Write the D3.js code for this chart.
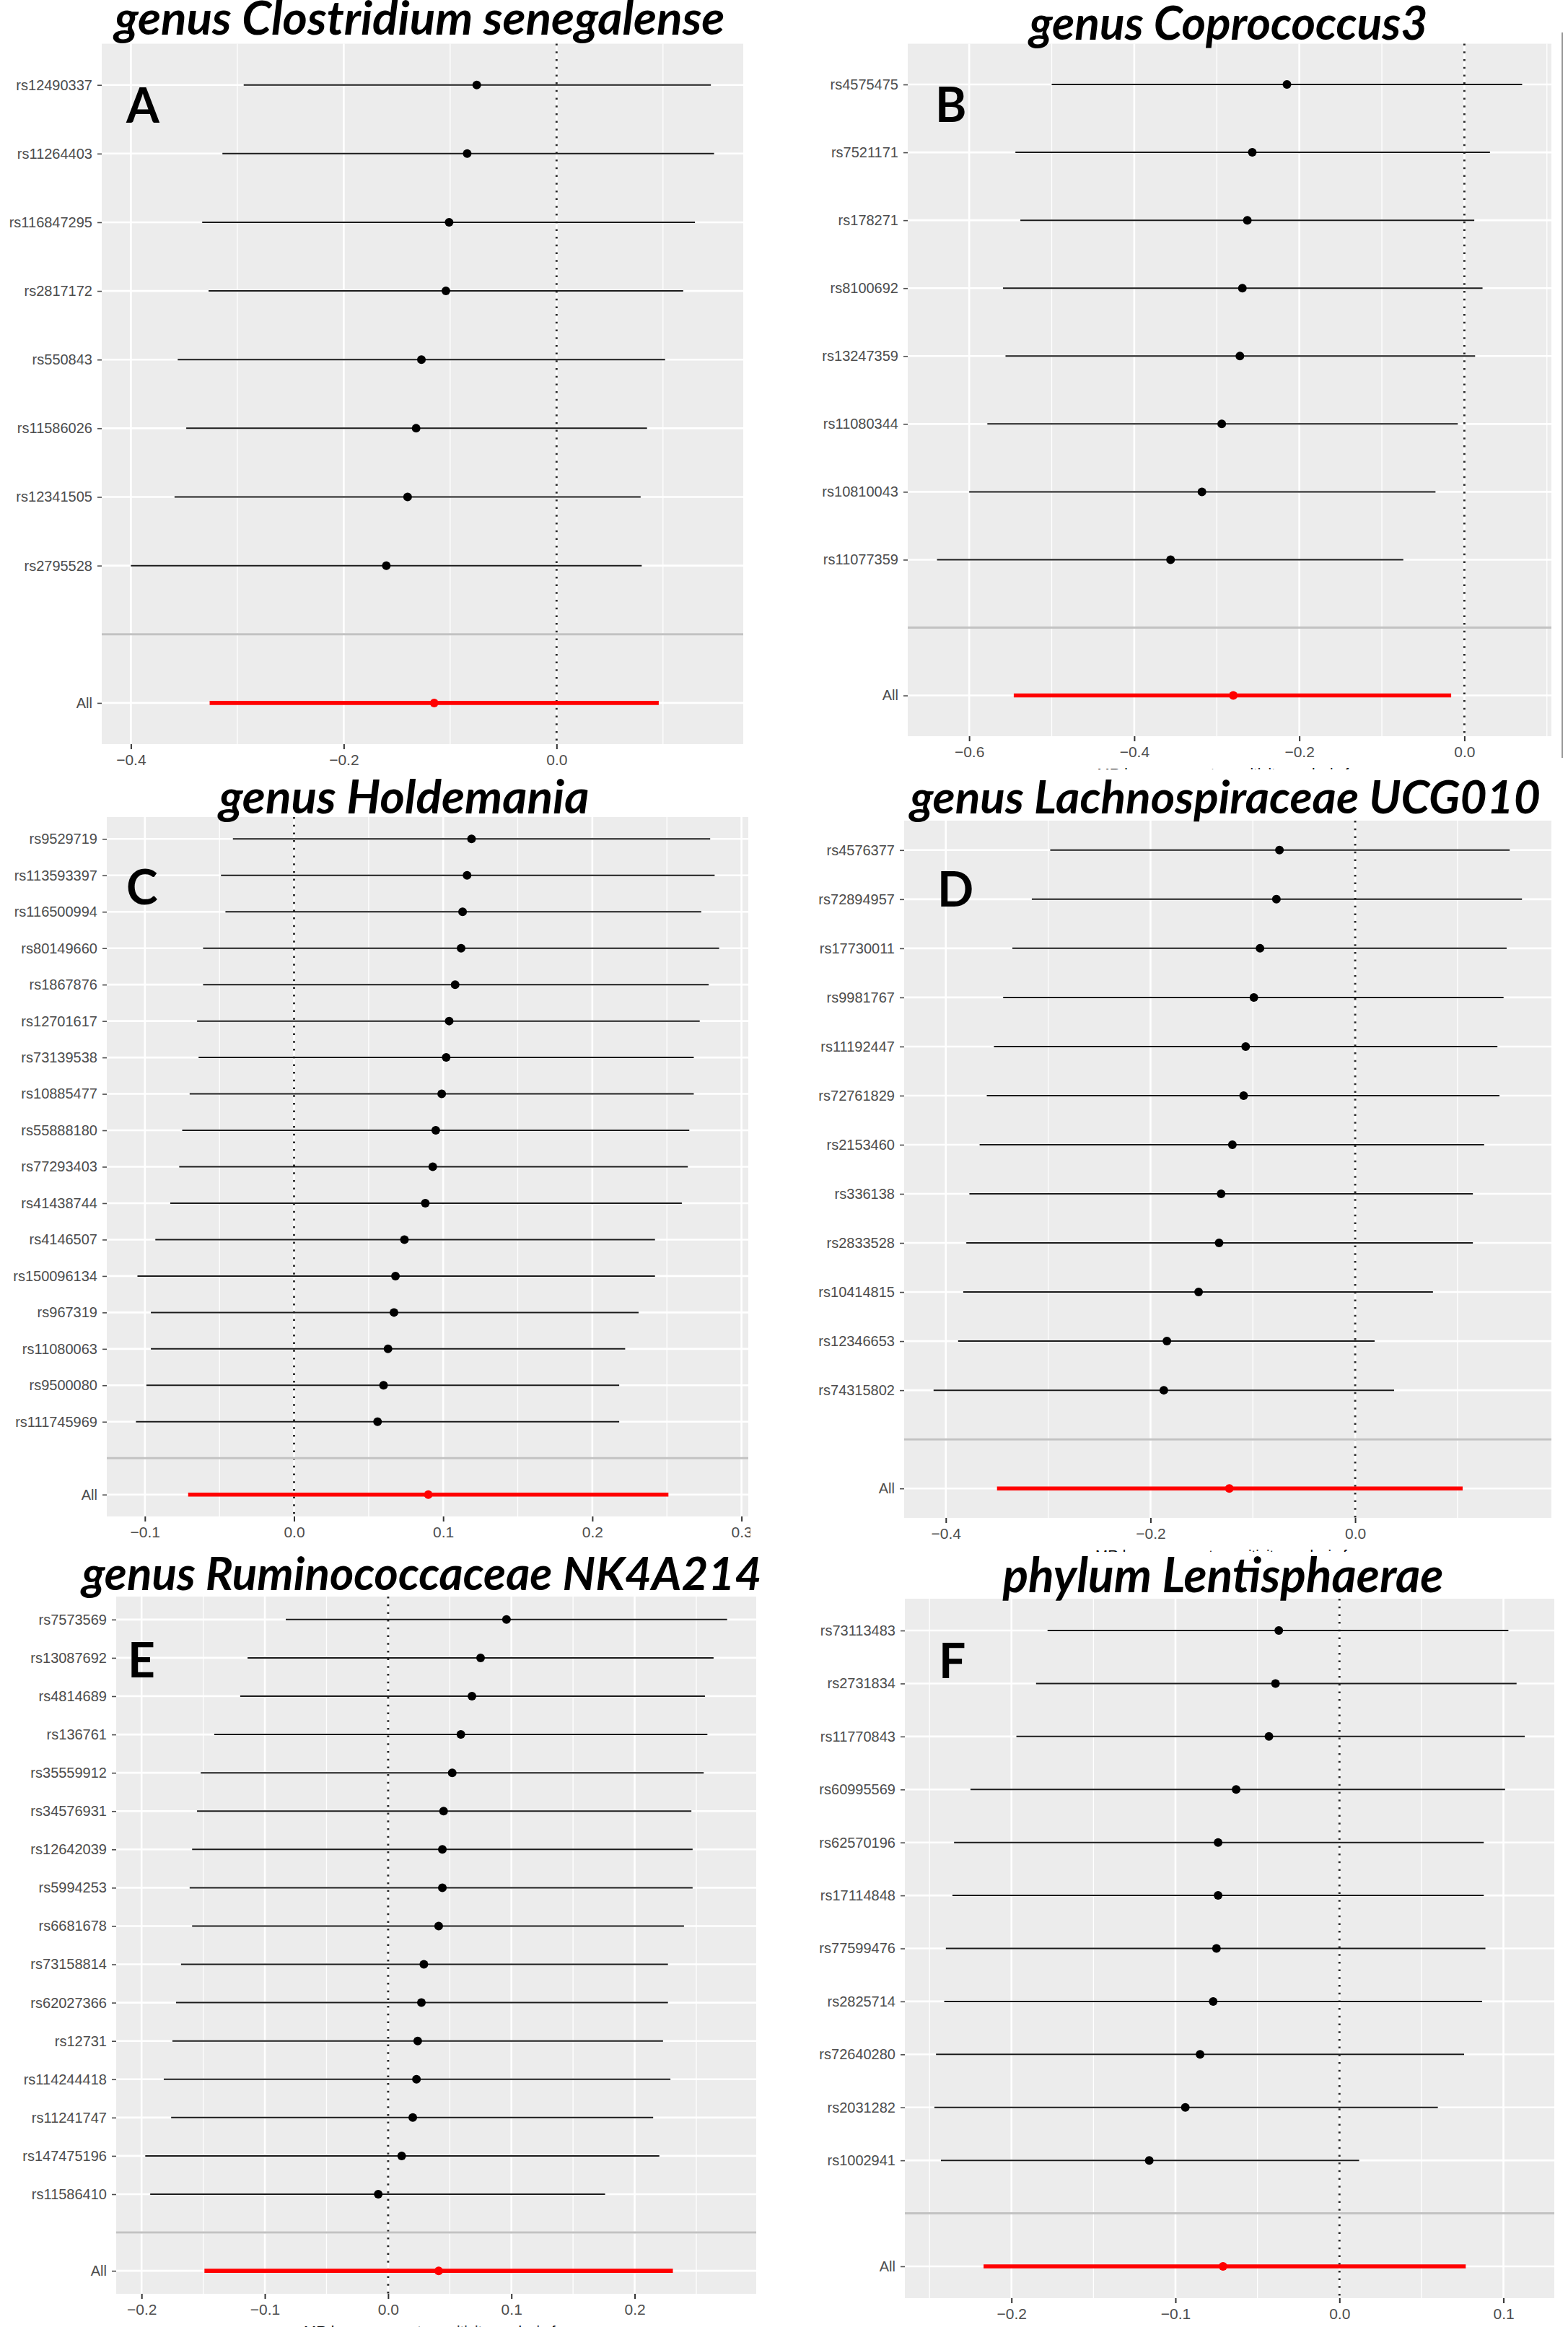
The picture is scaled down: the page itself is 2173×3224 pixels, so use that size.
<!DOCTYPE html>
<html>
<head>
<meta charset="utf-8">
<script src="https://cdn.jsdelivr.net/npm/d3@7"></script>
<style>
  html, body { margin: 0; padding: 0; background: #fff; }
  svg { display: block; }
</style>
</head>
<body>
<div id="chart"></div>
<script>
// ---------------- DATA ----------------
// Panel A: genus Clostridium senegalense
const snpsA = ["rs12490337","rs11264403","rs116847295","rs2817172","rs550843","rs11586026","rs12341505","rs2795528"];
const bA  = [-0.075,-0.084,-0.101,-0.104,-0.127,-0.132,-0.140,-0.160];
const loA = [-0.294,-0.314,-0.333,-0.327,-0.356,-0.348,-0.359,-0.400];
const hiA = [0.145,0.148,0.130,0.119,0.102,0.085,0.079,0.080];
const allA = [-0.115,-0.326,0.096];
const ticksA = [-0.4,-0.2,0.0];

// Panel B: genus Coprococcus3
const snpsB = ["rs4575475","rs7521171","rs178271","rs8100692","rs13247359","rs11080344","rs10810043","rs11077359"];
const bB  = [-0.215,-0.257,-0.263,-0.269,-0.272,-0.294,-0.318,-0.356];
const loB = [-0.500,-0.544,-0.538,-0.559,-0.556,-0.578,-0.600,-0.639];
const hiB = [0.070,0.031,0.012,0.022,0.013,-0.008,-0.035,-0.074];
const allB = [-0.280,-0.546,-0.016];
const ticksB = [-0.6,-0.4,-0.2,0.0];

// Panel C: genus Holdemania
const snpsC = ["rs9529719","rs113593397","rs116500994","rs80149660","rs1867876","rs12701617","rs73139538","rs10885477","rs55888180","rs77293403","rs41438744","rs4146507","rs150096134","rs967319","rs11080063","rs9500080","rs111745969"];
const bC  = [0.119,0.116,0.113,0.112,0.108,0.104,0.102,0.099,0.095,0.093,0.088,0.074,0.068,0.067,0.063,0.060,0.056];
const loC = [-0.041,-0.049,-0.046,-0.061,-0.061,-0.065,-0.064,-0.070,-0.075,-0.077,-0.083,-0.093,-0.105,-0.096,-0.096,-0.099,-0.106];
const hiC = [0.279,0.282,0.273,0.285,0.278,0.272,0.268,0.268,0.265,0.264,0.260,0.242,0.242,0.231,0.222,0.218,0.218];
const allC = [0.090,-0.071,0.251];
const ticksC = [-0.1,0.0,0.1,0.2,0.3];

// Panel D: genus Lachnospiraceae UCG010
const snpsD = ["rs4576377","rs72894957","rs17730011","rs9981767","rs11192447","rs72761829","rs2153460","rs336138","rs2833528","rs10414815","rs12346653","rs74315802"];
const bD  = [-0.074,-0.077,-0.093,-0.099,-0.107,-0.109,-0.120,-0.131,-0.133,-0.153,-0.184,-0.187];
const loD = [-0.298,-0.316,-0.335,-0.344,-0.353,-0.360,-0.367,-0.377,-0.380,-0.383,-0.388,-0.412];
const hiD = [0.151,0.163,0.148,0.145,0.139,0.141,0.126,0.115,0.115,0.076,0.019,0.038];
const allD = [-0.123,-0.350,0.105];
const ticksD = [-0.4,-0.2,0.0];

// Panel E: genus Ruminococcaceae NK4A214
const snpsE = ["rs7573569","rs13087692","rs4814689","rs136761","rs35559912","rs34576931","rs12642039","rs5994253","rs6681678","rs73158814","rs62027366","rs12731","rs114244418","rs11241747","rs147475196","rs11586410"];
const bE  = [0.096,0.075,0.068,0.059,0.052,0.045,0.044,0.044,0.041,0.029,0.027,0.024,0.023,0.020,0.011,-0.008];
const loE = [-0.083,-0.114,-0.120,-0.141,-0.152,-0.155,-0.159,-0.161,-0.159,-0.168,-0.172,-0.175,-0.182,-0.176,-0.197,-0.193];
const hiE = [0.275,0.264,0.257,0.259,0.256,0.246,0.247,0.247,0.240,0.227,0.227,0.223,0.229,0.215,0.220,0.176];
const allE = [0.041,-0.149,0.231];
const ticksE = [-0.2,-0.1,0.0,0.1,0.2];

// Panel F: phylum Lentisphaerae
const snpsF = ["rs73113483","rs2731834","rs11770843","rs60995569","rs62570196","rs17114848","rs77599476","rs2825714","rs72640280","rs2031282","rs1002941"];
const bF  = [-0.037,-0.039,-0.043,-0.063,-0.074,-0.074,-0.075,-0.077,-0.085,-0.094,-0.116];
const loF = [-0.178,-0.185,-0.197,-0.225,-0.235,-0.236,-0.240,-0.241,-0.246,-0.247,-0.243];
const hiF = [0.103,0.108,0.113,0.101,0.088,0.088,0.089,0.087,0.076,0.060,0.012];
const allF = [-0.071,-0.217,0.077];
const ticksF = [-0.2,-0.1,0.0,0.1];

const titles = ["genus Clostridium senegalense","genus Coprococcus3","genus Holdemania","genus Lachnospiraceae UCG010","genus Ruminococcaceae NK4A214","phylum Lentisphaerae"];
const letters = ["A","B","C","D","E","F"];
const xTitle = "MR leave-one-out sensitivity analysis for";

// ---------------- LAYOUT ----------------
const W = 2173, H = 3224;
const layout = [
  {box:[141,1030,60.6,1031], clip:[0,1085,0,1085], title:{cx:581.5,y:48,w:846}, letter:{x:175,y:170}, xt:null},
  {box:[1258,2150,60.6,1020], clip:[1086,2173,0,1070], title:{cx:1702.5,y:55,w:552}, letter:{x:1296,y:169}, xt:1066},
  {box:[148,1037,1132,2101], clip:[0,1040,1080,2150], title:{cx:560,y:1126.5,w:513}, letter:{x:175,y:1253}, xt:null},
  {box:[1253,2150,1137,2103], clip:[1086,2173,1080,2151], title:{cx:1698,y:1127,w:874}, letter:{x:1299,y:1256}, xt:2150},
  {box:[161,1048,2212,3178], clip:[0,1085,2150,3224], title:{cx:584.5,y:2203,w:942}, letter:{x:177,y:2324}, xt:3224},
  {box:[1254,2154,2215,3184], clip:[1086,2173,2150,3224], title:{cx:1695,y:2206,w:611}, letter:{x:1301,y:2325}, xt:null}
];

const panelData = [
  {snps:snpsA,b:bA,lo:loA,hi:hiA,all:allA,ticks:ticksA},
  {snps:snpsB,b:bB,lo:loB,hi:hiB,all:allB,ticks:ticksB},
  {snps:snpsC,b:bC,lo:loC,hi:hiC,all:allC,ticks:ticksC},
  {snps:snpsD,b:bD,lo:loD,hi:hiD,all:allD,ticks:ticksD},
  {snps:snpsE,b:bE,lo:loE,hi:hiE,all:allE,ticks:ticksE},
  {snps:snpsF,b:bF,lo:loF,hi:hiF,all:allF,ticks:ticksF}
];

const svg = d3.select("#chart").append("svg")
  .attr("width", W).attr("height", H)
  .attr("viewBox", `0 0 ${W} ${H}`);
svg.append("rect").attr("width", W).attr("height", H).attr("fill", "#ffffff");

const defs = svg.append("defs");
const fmt = d3.format(".1f");

panelData.forEach((pd, i) => {
  const L = layout[i];
  const [x0, x1, y0, y1] = L.box;
  const [cx0, cx1, cy0, cy1] = L.clip;

  defs.append("clipPath").attr("id", "clip" + i)
    .append("rect").attr("x", cx0).attr("y", cy0).attr("width", cx1 - cx0).attr("height", cy1 - cy0);

  const g = svg.append("g").attr("clip-path", `url(#clip${i})`);

  // rows: SNPs, then blank separator, then All
  const rows = pd.snps.map((s, k) => ({snp: s, b: pd.b[k], lo: pd.lo[k], hi: pd.hi[k]}));
  const allRow = {snp: "All", b: pd.all[0], lo: pd.all[1], hi: pd.all[2]};
  const yDomain = [...pd.snps, "", "All"];

  const lo = d3.min([...pd.lo, pd.all[1]]);
  const hi = d3.max([...pd.hi, pd.all[2]]);
  const pad = (hi - lo) * 0.05;
  const x = d3.scaleLinear().domain([lo - pad, hi + pad]).range([x0, x1]);
  const y = d3.scalePoint().domain(yDomain).range([y0, y1]).padding(0.6);

  // panel background
  g.append("rect").attr("x", x0).attr("y", y0).attr("width", x1 - x0).attr("height", y1 - y0)
    .attr("fill", "#ececec");

  // minor x gridlines
  const step = pd.ticks[1] - pd.ticks[0];
  const minor = [];
  const [d0, d1] = x.domain();
  for (let v = pd.ticks[0] - step / 2; v <= d1 + 1e-9; v += step) {
    if (v >= d0) minor.push(v);
  }
  g.append("g").selectAll("line").data(minor).join("line")
    .attr("x1", d => x(d)).attr("x2", d => x(d)).attr("y1", y0).attr("y2", y1)
    .attr("stroke", "#ffffff").attr("stroke-width", 1.3);
  // major x gridlines
  g.append("g").selectAll("line").data(pd.ticks).join("line")
    .attr("x1", d => x(d)).attr("x2", d => x(d)).attr("y1", y0).attr("y2", y1)
    .attr("stroke", "#ffffff").attr("stroke-width", 2.6);
  // y gridlines
  g.append("g").selectAll("line").data(yDomain).join("line")
    .attr("x1", x0).attr("x2", x1).attr("y1", d => y(d)).attr("y2", d => y(d))
    .attr("stroke", "#ffffff").attr("stroke-width", 2.6);

  // zero line (dotted)
  g.append("line").attr("x1", x(0)).attr("x2", x(0)).attr("y1", y0).attr("y2", y1)
    .attr("stroke", "#2a2a2a").attr("stroke-width", 2.9).attr("stroke-dasharray", "2.5 8.2");

  // error bars
  g.append("g").selectAll("line").data(rows).join("line")
    .attr("x1", d => x(d.lo)).attr("x2", d => x(d.hi))
    .attr("y1", d => y(d.snp)).attr("y2", d => y(d.snp))
    .attr("stroke", "#1a1a1a").attr("stroke-width", 2);
  g.append("line")
    .attr("x1", x(allRow.lo)).attr("x2", x(allRow.hi))
    .attr("y1", y("All")).attr("y2", y("All"))
    .attr("stroke", "#ff0000").attr("stroke-width", 5.6);

  // points
  g.append("g").selectAll("circle").data(rows).join("circle")
    .attr("cx", d => x(d.b)).attr("cy", d => y(d.snp)).attr("r", 6).attr("fill", "#000000");
  g.append("circle").attr("cx", x(allRow.b)).attr("cy", y("All")).attr("r", 6).attr("fill", "#ff0000");

  // separator line at blank row
  g.append("line").attr("x1", x0).attr("x2", x1).attr("y1", y("")).attr("y2", y(""))
    .attr("stroke", "#c2c2c2").attr("stroke-width", 3);

  // y axis
  const yAxis = g.append("g").attr("transform", `translate(${x0},0)`)
    .call(d3.axisLeft(y).tickSize(6).tickPadding(7));
  yAxis.select(".domain").remove();
  yAxis.selectAll(".tick line").attr("stroke", "#4d4d4d").attr("stroke-width", 1.6)
    .attr("opacity", d => d === "" ? 0 : 1);
  yAxis.selectAll(".tick text").attr("fill", "#4d4d4d")
    .style("font-family", "'Liberation Sans', Arial, sans-serif").style("font-size", "20px");

  // x axis
  const xAxis = g.append("g").attr("transform", `translate(0,${y1})`)
    .call(d3.axisBottom(x).tickValues(pd.ticks).tickFormat(fmt).tickSize(7).tickPadding(7));
  xAxis.select(".domain").remove();
  xAxis.selectAll(".tick line").attr("stroke", "#333333").attr("stroke-width", 2);
  xAxis.selectAll(".tick text").attr("fill", "#4d4d4d")
    .style("font-family", "'Liberation Sans', Arial, sans-serif").style("font-size", "21px");

  // cropped x-axis title fragment (only its top edge survives the crop)
  if (L.xt !== null) {
    defs.append("clipPath").attr("id", "xt" + i)
      .append("rect").attr("x", x0 - 200).attr("y", y1).attr("width", x1 - x0 + 400).attr("height", L.xt - y1);
    svg.append("text").attr("clip-path", `url(#xt${i})`)
      .attr("x", (x0 + x1) / 2).attr("y", y1 + 59)
      .attr("text-anchor", "middle").attr("fill", "#000")
      .style("font-family", "'Liberation Sans', Arial, sans-serif").style("font-size", "20.5px")
      .text(xTitle);
  }

  // title
  const t = svg.append("text")
    .attr("x", L.title.cx).attr("y", L.title.y).attr("text-anchor", "middle")
    .attr("fill", "#000")
    .style("font-family", "Lato, 'Open Sans', sans-serif")
    .style("font-weight", "bold").style("font-style", "italic")
    .style("font-size", "56px")
    .text(titles[i]);
  const len = t.node().getComputedTextLength();
  if (len > 0) t.style("font-size", (56 * L.title.w / len).toFixed(2) + "px");

  // panel letter
  svg.append("text").attr("x", L.letter.x).attr("y", L.letter.y)
    .attr("fill", "#000")
    .style("font-family", "Lato, 'Open Sans', sans-serif")
    .style("font-weight", "bold").style("font-size", "66px")
    .text(letters[i]);
});

// thin frame line at the right edge of panel B
svg.append("line").attr("x1", 2165).attr("x2", 2165).attr("y1", 45).attr("y2", 1050)
  .attr("stroke", "#9a9a9a").attr("stroke-width", 2);
</script>
</body>
</html>
